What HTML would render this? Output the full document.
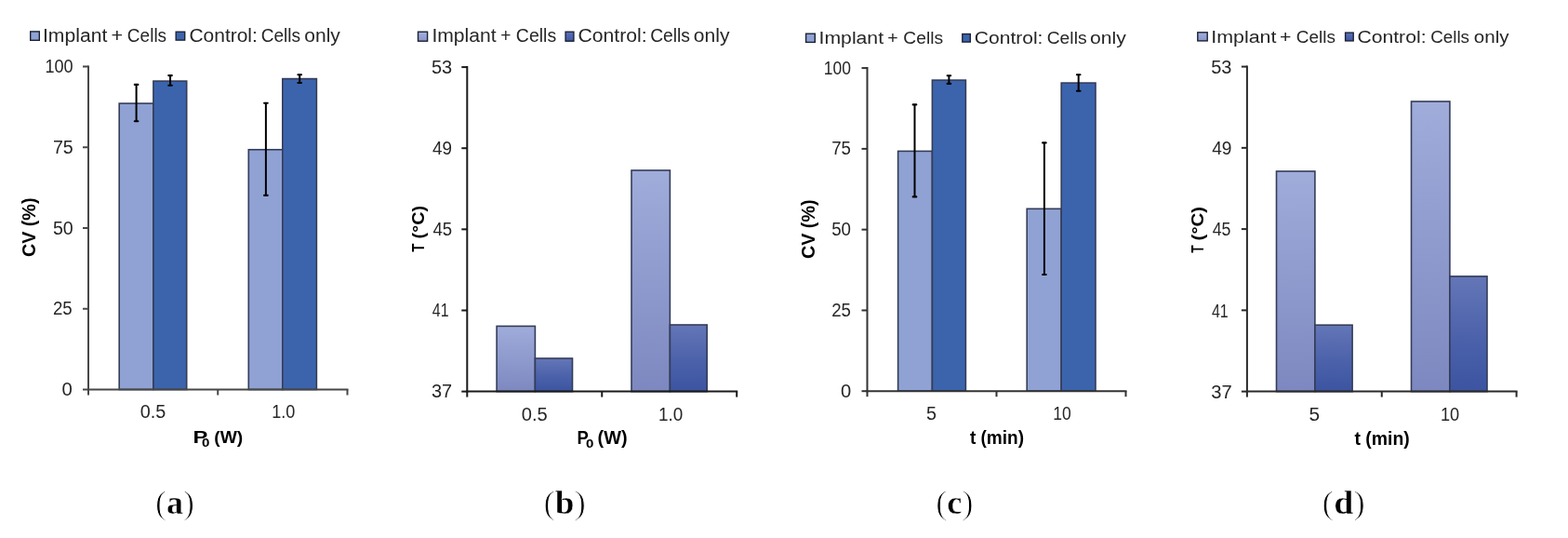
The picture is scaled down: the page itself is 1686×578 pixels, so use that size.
<!DOCTYPE html>
<html><head><meta charset="utf-8"><title>Figure</title><style>
html,body{margin:0;padding:0;background:#fff;}
svg{display:block;}
</style></head><body>
<svg width="1686" height="578" viewBox="0 0 1686 578">
<defs>
<linearGradient id="gL" x1="0" y1="0" x2="0" y2="1">
  <stop offset="0" stop-color="#a0acda"/><stop offset="1" stop-color="#7d88c0"/>
</linearGradient>
<linearGradient id="gD" x1="0" y1="0" x2="0" y2="1">
  <stop offset="0" stop-color="#6476b7"/><stop offset="0.55" stop-color="#4b61aa"/><stop offset="1" stop-color="#3c54a1"/>
</linearGradient>
<linearGradient id="gLs" x1="0" y1="0" x2="0" y2="1">
  <stop offset="0" stop-color="#a3b0dd"/><stop offset="1" stop-color="#8a95ca"/>
</linearGradient>
<linearGradient id="gDs" x1="0" y1="0" x2="0" y2="1">
  <stop offset="0" stop-color="#5a70b8"/><stop offset="1" stop-color="#3f57a6"/>
</linearGradient>
<filter id="soft" x="0" y="0" width="1686" height="578" filterUnits="userSpaceOnUse"><feGaussianBlur stdDeviation="0.0"/></filter></defs>
<g>
<rect x="128.20" y="111.10" width="36.70" height="307.40" fill="#90a2d4" stroke="#343c58" stroke-width="1.6"/>
<rect x="164.90" y="87.10" width="35.80" height="331.40" fill="#3c64ad" stroke="#343c58" stroke-width="1.6"/>
<rect x="267.30" y="160.75" width="36.50" height="257.75" fill="#90a2d4" stroke="#343c58" stroke-width="1.6"/>
<rect x="303.80" y="84.60" width="36.60" height="333.90" fill="#3c64ad" stroke="#343c58" stroke-width="1.6"/>
<line x1="146.60" y1="90.90" x2="146.60" y2="130.20" stroke="#000" stroke-width="2"/>
<line x1="144.80" y1="90.90" x2="148.40" y2="90.90" stroke="#000" stroke-width="2.1" stroke-linecap="round"/>
<line x1="144.80" y1="130.20" x2="148.40" y2="130.20" stroke="#000" stroke-width="2.1" stroke-linecap="round"/>
<line x1="183.05" y1="81.10" x2="183.05" y2="91.80" stroke="#000" stroke-width="2"/>
<line x1="181.25" y1="81.10" x2="184.85" y2="81.10" stroke="#000" stroke-width="2.1" stroke-linecap="round"/>
<line x1="181.25" y1="91.80" x2="184.85" y2="91.80" stroke="#000" stroke-width="2.1" stroke-linecap="round"/>
<line x1="285.90" y1="110.70" x2="285.90" y2="209.90" stroke="#000" stroke-width="2"/>
<line x1="284.10" y1="110.70" x2="287.70" y2="110.70" stroke="#000" stroke-width="2.1" stroke-linecap="round"/>
<line x1="284.10" y1="209.90" x2="287.70" y2="209.90" stroke="#000" stroke-width="2.1" stroke-linecap="round"/>
<line x1="322.20" y1="80.20" x2="322.20" y2="89.05" stroke="#000" stroke-width="2"/>
<line x1="320.40" y1="80.20" x2="324.00" y2="80.20" stroke="#000" stroke-width="2.1" stroke-linecap="round"/>
<line x1="320.40" y1="89.05" x2="324.00" y2="89.05" stroke="#000" stroke-width="2.1" stroke-linecap="round"/>
<line x1="95.00" y1="70.50" x2="95.00" y2="419.50" stroke="#474747" stroke-width="2"/>
<line x1="89.00" y1="71.50" x2="95.00" y2="71.50" stroke="#474747" stroke-width="2"/>
<line x1="89.00" y1="158.25" x2="95.00" y2="158.25" stroke="#474747" stroke-width="2"/>
<line x1="89.00" y1="245.00" x2="95.00" y2="245.00" stroke="#474747" stroke-width="2"/>
<line x1="89.00" y1="331.75" x2="95.00" y2="331.75" stroke="#474747" stroke-width="2"/>
<line x1="89.00" y1="418.50" x2="95.00" y2="418.50" stroke="#474747" stroke-width="2"/>
<line x1="94.00" y1="418.50" x2="374.50" y2="418.50" stroke="#474747" stroke-width="2"/>
<line x1="95.00" y1="418.50" x2="95.00" y2="424.50" stroke="#474747" stroke-width="2"/>
<line x1="234.25" y1="418.50" x2="234.25" y2="424.50" stroke="#474747" stroke-width="2"/>
<line x1="373.50" y1="418.50" x2="373.50" y2="424.50" stroke="#474747" stroke-width="2"/>
<rect x="32.70" y="33.90" width="9.60" height="9.40" fill="#90a2d4" stroke="#1c2233" stroke-width="1.4"/>
<rect x="189.20" y="34.20" width="9.50" height="8.90" fill="#3c64ad" stroke="#1c2233" stroke-width="1.4"/>
<rect x="534.10" y="350.40" width="41.30" height="70.20" fill="url(#gL)" stroke="#343c58" stroke-width="1.6"/>
<rect x="575.40" y="385.00" width="40.10" height="35.60" fill="url(#gD)" stroke="#343c58" stroke-width="1.6"/>
<rect x="679.00" y="183.00" width="41.40" height="237.60" fill="url(#gL)" stroke="#343c58" stroke-width="1.6"/>
<rect x="720.40" y="349.00" width="39.80" height="71.60" fill="url(#gD)" stroke="#343c58" stroke-width="1.6"/>
<line x1="502.30" y1="71.10" x2="502.30" y2="421.60" stroke="#1a1a1a" stroke-width="2"/>
<line x1="496.30" y1="72.10" x2="502.30" y2="72.10" stroke="#1a1a1a" stroke-width="2"/>
<line x1="496.30" y1="159.22" x2="502.30" y2="159.22" stroke="#1a1a1a" stroke-width="2"/>
<line x1="496.30" y1="246.35" x2="502.30" y2="246.35" stroke="#1a1a1a" stroke-width="2"/>
<line x1="496.30" y1="333.48" x2="502.30" y2="333.48" stroke="#1a1a1a" stroke-width="2"/>
<line x1="496.30" y1="420.60" x2="502.30" y2="420.60" stroke="#1a1a1a" stroke-width="2"/>
<line x1="501.30" y1="420.60" x2="793.20" y2="420.60" stroke="#1a1a1a" stroke-width="2"/>
<line x1="502.30" y1="420.60" x2="502.30" y2="426.60" stroke="#1a1a1a" stroke-width="2"/>
<line x1="647.25" y1="420.60" x2="647.25" y2="426.60" stroke="#1a1a1a" stroke-width="2"/>
<line x1="792.20" y1="420.60" x2="792.20" y2="426.60" stroke="#1a1a1a" stroke-width="2"/>
<rect x="449.50" y="34.20" width="10.10" height="10.00" fill="url(#gLs)" stroke="#1c2233" stroke-width="1.4"/>
<rect x="608.10" y="34.20" width="8.80" height="10.00" fill="url(#gDs)" stroke="#1c2233" stroke-width="1.4"/>
<rect x="965.60" y="162.40" width="36.80" height="257.80" fill="#90a2d4" stroke="#343c58" stroke-width="1.6"/>
<rect x="1002.40" y="86.10" width="36.00" height="334.10" fill="#3c64ad" stroke="#343c58" stroke-width="1.6"/>
<rect x="1104.20" y="224.30" width="37.00" height="195.90" fill="#90a2d4" stroke="#343c58" stroke-width="1.6"/>
<rect x="1141.20" y="89.10" width="36.80" height="331.10" fill="#3c64ad" stroke="#343c58" stroke-width="1.6"/>
<line x1="983.50" y1="112.40" x2="983.50" y2="211.40" stroke="#000" stroke-width="2"/>
<line x1="981.70" y1="112.40" x2="985.30" y2="112.40" stroke="#000" stroke-width="2.1" stroke-linecap="round"/>
<line x1="981.70" y1="211.40" x2="985.30" y2="211.40" stroke="#000" stroke-width="2.1" stroke-linecap="round"/>
<line x1="1020.40" y1="81.30" x2="1020.40" y2="89.90" stroke="#000" stroke-width="2"/>
<line x1="1018.60" y1="81.30" x2="1022.20" y2="81.30" stroke="#000" stroke-width="2.1" stroke-linecap="round"/>
<line x1="1018.60" y1="89.90" x2="1022.20" y2="89.90" stroke="#000" stroke-width="2.1" stroke-linecap="round"/>
<line x1="1122.90" y1="153.40" x2="1122.90" y2="295.00" stroke="#000" stroke-width="2"/>
<line x1="1121.10" y1="153.40" x2="1124.70" y2="153.40" stroke="#000" stroke-width="2.1" stroke-linecap="round"/>
<line x1="1121.10" y1="295.00" x2="1124.70" y2="295.00" stroke="#000" stroke-width="2.1" stroke-linecap="round"/>
<line x1="1159.70" y1="80.30" x2="1159.70" y2="97.80" stroke="#000" stroke-width="2"/>
<line x1="1157.90" y1="80.30" x2="1161.50" y2="80.30" stroke="#000" stroke-width="2.1" stroke-linecap="round"/>
<line x1="1157.90" y1="97.80" x2="1161.50" y2="97.80" stroke="#000" stroke-width="2.1" stroke-linecap="round"/>
<line x1="932.50" y1="72.10" x2="932.50" y2="421.20" stroke="#333333" stroke-width="2"/>
<line x1="926.50" y1="73.10" x2="932.50" y2="73.10" stroke="#333333" stroke-width="2"/>
<line x1="926.50" y1="159.88" x2="932.50" y2="159.88" stroke="#333333" stroke-width="2"/>
<line x1="926.50" y1="246.65" x2="932.50" y2="246.65" stroke="#333333" stroke-width="2"/>
<line x1="926.50" y1="333.43" x2="932.50" y2="333.43" stroke="#333333" stroke-width="2"/>
<line x1="926.50" y1="420.20" x2="932.50" y2="420.20" stroke="#333333" stroke-width="2"/>
<line x1="931.50" y1="420.20" x2="1211.50" y2="420.20" stroke="#333333" stroke-width="2"/>
<line x1="932.50" y1="420.20" x2="932.50" y2="426.20" stroke="#333333" stroke-width="2"/>
<line x1="1071.50" y1="420.20" x2="1071.50" y2="426.20" stroke="#333333" stroke-width="2"/>
<line x1="1210.50" y1="420.20" x2="1210.50" y2="426.20" stroke="#333333" stroke-width="2"/>
<rect x="866.60" y="36.20" width="9.70" height="9.20" fill="#90a2d4" stroke="#1c2233" stroke-width="1.4"/>
<rect x="1034.80" y="36.50" width="8.50" height="8.60" fill="#3c64ad" stroke="#1c2233" stroke-width="1.4"/>
<rect x="1372.50" y="184.00" width="41.40" height="236.60" fill="url(#gL)" stroke="#343c58" stroke-width="1.6"/>
<rect x="1413.90" y="349.20" width="40.20" height="71.40" fill="url(#gD)" stroke="#343c58" stroke-width="1.6"/>
<rect x="1517.50" y="109.00" width="41.40" height="311.60" fill="url(#gL)" stroke="#343c58" stroke-width="1.6"/>
<rect x="1558.90" y="296.90" width="40.10" height="123.70" fill="url(#gD)" stroke="#343c58" stroke-width="1.6"/>
<line x1="1340.90" y1="70.60" x2="1340.90" y2="421.60" stroke="#2a2a2a" stroke-width="2"/>
<line x1="1334.90" y1="71.60" x2="1340.90" y2="71.60" stroke="#2a2a2a" stroke-width="2"/>
<line x1="1334.90" y1="158.85" x2="1340.90" y2="158.85" stroke="#2a2a2a" stroke-width="2"/>
<line x1="1334.90" y1="246.10" x2="1340.90" y2="246.10" stroke="#2a2a2a" stroke-width="2"/>
<line x1="1334.90" y1="333.35" x2="1340.90" y2="333.35" stroke="#2a2a2a" stroke-width="2"/>
<line x1="1334.90" y1="420.60" x2="1340.90" y2="420.60" stroke="#2a2a2a" stroke-width="2"/>
<line x1="1339.90" y1="420.60" x2="1631.60" y2="420.60" stroke="#2a2a2a" stroke-width="2"/>
<line x1="1340.90" y1="420.60" x2="1340.90" y2="426.60" stroke="#2a2a2a" stroke-width="2"/>
<line x1="1485.75" y1="420.60" x2="1485.75" y2="426.60" stroke="#2a2a2a" stroke-width="2"/>
<line x1="1630.60" y1="420.60" x2="1630.60" y2="426.60" stroke="#2a2a2a" stroke-width="2"/>
<rect x="1287.80" y="34.80" width="10.40" height="9.10" fill="url(#gLs)" stroke="#1c2233" stroke-width="1.4"/>
<rect x="1446.60" y="35.10" width="8.60" height="8.80" fill="url(#gDs)" stroke="#1c2233" stroke-width="1.4"/>
<text id="ya0" x="48.40" y="78.10" font-family='"Liberation Sans", Arial, sans-serif' font-size="20.64" font-weight="normal" fill="#262626" textLength="30.15" lengthAdjust="spacingAndGlyphs" >100</text>
<text id="ya1" x="56.90" y="164.85" font-family='"Liberation Sans", Arial, sans-serif' font-size="20.64" font-weight="normal" fill="#262626" textLength="21.81" lengthAdjust="spacingAndGlyphs" >75</text>
<text id="ya2" x="56.90" y="251.60" font-family='"Liberation Sans", Arial, sans-serif' font-size="20.64" font-weight="normal" fill="#262626" textLength="21.81" lengthAdjust="spacingAndGlyphs" >50</text>
<text id="ya3" x="56.90" y="338.35" font-family='"Liberation Sans", Arial, sans-serif' font-size="20.64" font-weight="normal" fill="#262626" textLength="20.77" lengthAdjust="spacingAndGlyphs" >25</text>
<text id="ya4" x="66.60" y="425.10" font-family='"Liberation Sans", Arial, sans-serif' font-size="20.64" font-weight="normal" fill="#262626" textLength="11.30" lengthAdjust="spacingAndGlyphs" >0</text>
<text id="xa0" x="150.80" y="449.20" font-family='"Liberation Sans", Arial, sans-serif' font-size="21.08" font-weight="normal" fill="#262626" textLength="27.50" lengthAdjust="spacingAndGlyphs" >0.5</text>
<text id="xa1" x="292.20" y="449.20" font-family='"Liberation Sans", Arial, sans-serif' font-size="21.08" font-weight="normal" fill="#262626" textLength="25.14" lengthAdjust="spacingAndGlyphs" >1.0</text>
<text id="la1_0" x="46.00" y="44.60" font-family='"Liberation Sans", Arial, sans-serif' font-size="19.33" font-weight="normal" fill="#262626" textLength="69.26" lengthAdjust="spacingAndGlyphs" >Implant</text>
<text id="la1_1" x="119.46" y="44.60" font-family='"Liberation Sans", Arial, sans-serif' font-size="19.33" font-weight="normal" fill="#262626" textLength="12.67" lengthAdjust="spacingAndGlyphs" >+</text>
<text id="la1_2" x="136.86" y="44.60" font-family='"Liberation Sans", Arial, sans-serif' font-size="19.33" font-weight="normal" fill="#262626" textLength="42.25" lengthAdjust="spacingAndGlyphs" >Cells</text>
<text id="la2_0" x="203.40" y="44.60" font-family='"Liberation Sans", Arial, sans-serif' font-size="19.33" font-weight="normal" fill="#262626" textLength="73.48" lengthAdjust="spacingAndGlyphs" >Control:</text>
<text id="la2_1" x="280.68" y="44.60" font-family='"Liberation Sans", Arial, sans-serif' font-size="19.33" font-weight="normal" fill="#262626" textLength="42.50" lengthAdjust="spacingAndGlyphs" >Cells</text>
<text id="la2_2" x="327.32" y="44.60" font-family='"Liberation Sans", Arial, sans-serif' font-size="19.33" font-weight="normal" fill="#262626" textLength="38.59" lengthAdjust="spacingAndGlyphs" >only</text>
<text id="tay" transform="translate(38.40,276.10) rotate(-90)" x="0" y="0" font-family='"Liberation Sans", Arial, sans-serif' font-size="19.62" font-weight="bold" fill="#000" textLength="63.59" lengthAdjust="spacingAndGlyphs" >CV (%)</text>
<text id="taxP" x="207.60" y="475.50" font-family='"Liberation Sans", Arial, sans-serif' font-size="19.19" font-weight="bold" fill="#000" textLength="15.84" lengthAdjust="spacingAndGlyphs" >P</text>
<text id="taxS" x="217.00" y="479.60" font-family='"Liberation Sans", Arial, sans-serif' font-size="12.57" font-weight="bold" fill="#000" textLength="8.41" lengthAdjust="spacingAndGlyphs" >0</text>
<text id="taxR" x="230.30" y="475.50" font-family='"Liberation Sans", Arial, sans-serif' font-size="19.19" font-weight="bold" fill="#000" textLength="30.97" lengthAdjust="spacingAndGlyphs" >(W)</text>
<text id="ca" x="167.00" y="552.00" font-family='"Liberation Serif", "Times New Roman", serif' font-size="36.20" font-weight="normal" fill="#000" textLength="42.13" lengthAdjust="spacingAndGlyphs" stroke="#fff" stroke-width="0.9">(<tspan font-weight="bold" stroke-width="0.45">a</tspan>)</text>
<text id="yb0" x="464.00" y="78.50" font-family='"Liberation Sans", Arial, sans-serif' font-size="20.35" font-weight="normal" fill="#262626" textLength="22.22" lengthAdjust="spacingAndGlyphs" >53</text>
<text id="yb1" x="465.00" y="165.62" font-family='"Liberation Sans", Arial, sans-serif' font-size="20.35" font-weight="normal" fill="#262626" textLength="21.05" lengthAdjust="spacingAndGlyphs" >49</text>
<text id="yb2" x="465.50" y="252.75" font-family='"Liberation Sans", Arial, sans-serif' font-size="20.35" font-weight="normal" fill="#262626" textLength="20.72" lengthAdjust="spacingAndGlyphs" >45</text>
<text id="yb3" x="464.80" y="339.88" font-family='"Liberation Sans", Arial, sans-serif' font-size="20.35" font-weight="normal" fill="#262626" textLength="17.75" lengthAdjust="spacingAndGlyphs" >41</text>
<text id="yb4" x="464.00" y="427.00" font-family='"Liberation Sans", Arial, sans-serif' font-size="20.35" font-weight="normal" fill="#262626" textLength="22.22" lengthAdjust="spacingAndGlyphs" >37</text>
<text id="xb0" x="560.80" y="452.10" font-family='"Liberation Sans", Arial, sans-serif' font-size="21.08" font-weight="normal" fill="#262626" textLength="27.97" lengthAdjust="spacingAndGlyphs" >0.5</text>
<text id="xb1" x="708.00" y="452.10" font-family='"Liberation Sans", Arial, sans-serif' font-size="21.08" font-weight="normal" fill="#262626" textLength="26.29" lengthAdjust="spacingAndGlyphs" >1.0</text>
<text id="lb1_0" x="464.40" y="45.20" font-family='"Liberation Sans", Arial, sans-serif' font-size="19.62" font-weight="normal" fill="#262626" textLength="69.23" lengthAdjust="spacingAndGlyphs" >Implant</text>
<text id="lb1_1" x="538.20" y="45.20" font-family='"Liberation Sans", Arial, sans-serif' font-size="19.62" font-weight="normal" fill="#262626" textLength="11.16" lengthAdjust="spacingAndGlyphs" >+</text>
<text id="lb1_2" x="554.87" y="45.20" font-family='"Liberation Sans", Arial, sans-serif' font-size="19.62" font-weight="normal" fill="#262626" textLength="43.28" lengthAdjust="spacingAndGlyphs" >Cells</text>
<text id="lb2_0" x="621.40" y="45.20" font-family='"Liberation Sans", Arial, sans-serif' font-size="19.62" font-weight="normal" fill="#262626" textLength="74.20" lengthAdjust="spacingAndGlyphs" >Control:</text>
<text id="lb2_1" x="699.14" y="45.20" font-family='"Liberation Sans", Arial, sans-serif' font-size="19.62" font-weight="normal" fill="#262626" textLength="42.89" lengthAdjust="spacingAndGlyphs" >Cells</text>
<text id="lb2_2" x="745.86" y="45.20" font-family='"Liberation Sans", Arial, sans-serif' font-size="19.62" font-weight="normal" fill="#262626" textLength="38.63" lengthAdjust="spacingAndGlyphs" >only</text>
<text id="tbyA" transform="translate(455.80,270.80) rotate(-90)" x="0" y="0" font-family='"Liberation Sans", Arial, sans-serif' font-size="19.19" font-weight="bold" fill="#000" textLength="9.06" lengthAdjust="spacingAndGlyphs" >T</text>
<text id="tbyB" transform="translate(455.80,256.40) rotate(-90)" x="0" y="0" font-family='"Liberation Sans", Arial, sans-serif' font-size="19.19" font-weight="bold" fill="#000" textLength="35.47" lengthAdjust="spacingAndGlyphs" >(°C)</text>
<text id="tbxP" x="620.50" y="476.70" font-family='"Liberation Sans", Arial, sans-serif' font-size="19.62" font-weight="bold" fill="#000" textLength="12.32" lengthAdjust="spacingAndGlyphs" >P</text>
<text id="tbxS" x="630.00" y="480.80" font-family='"Liberation Sans", Arial, sans-serif' font-size="13.00" font-weight="bold" fill="#000" textLength="8.37" lengthAdjust="spacingAndGlyphs" >0</text>
<text id="tbxR" x="642.60" y="476.70" font-family='"Liberation Sans", Arial, sans-serif' font-size="19.62" font-weight="bold" fill="#000" textLength="32.06" lengthAdjust="spacingAndGlyphs" >(W)</text>
<text id="cb" x="584.40" y="552.00" font-family='"Liberation Serif", "Times New Roman", serif' font-size="36.20" font-weight="normal" fill="#000" textLength="45.59" lengthAdjust="spacingAndGlyphs" stroke="#fff" stroke-width="0.9">(<tspan font-weight="bold" stroke-width="0.45">b</tspan>)</text>
<text id="yc0" x="885.70" y="79.50" font-family='"Liberation Sans", Arial, sans-serif' font-size="20.64" font-weight="normal" fill="#262626" textLength="29.19" lengthAdjust="spacingAndGlyphs" >100</text>
<text id="yc1" x="894.20" y="166.28" font-family='"Liberation Sans", Arial, sans-serif' font-size="20.64" font-weight="normal" fill="#262626" textLength="20.78" lengthAdjust="spacingAndGlyphs" >75</text>
<text id="yc2" x="894.20" y="253.05" font-family='"Liberation Sans", Arial, sans-serif' font-size="20.64" font-weight="normal" fill="#262626" textLength="20.83" lengthAdjust="spacingAndGlyphs" >50</text>
<text id="yc3" x="894.20" y="339.83" font-family='"Liberation Sans", Arial, sans-serif' font-size="20.64" font-weight="normal" fill="#262626" textLength="20.78" lengthAdjust="spacingAndGlyphs" >25</text>
<text id="yc4" x="903.90" y="426.60" font-family='"Liberation Sans", Arial, sans-serif' font-size="20.64" font-weight="normal" fill="#262626" textLength="11.22" lengthAdjust="spacingAndGlyphs" >0</text>
<text id="xc0" x="996.10" y="450.60" font-family='"Liberation Sans", Arial, sans-serif' font-size="20.93" font-weight="normal" fill="#262626" textLength="11.00" lengthAdjust="spacingAndGlyphs" >5</text>
<text id="xc1" x="1132.20" y="450.60" font-family='"Liberation Sans", Arial, sans-serif' font-size="20.93" font-weight="normal" fill="#262626" textLength="19.56" lengthAdjust="spacingAndGlyphs" >10</text>
<text id="lc1_0" x="880.60" y="46.70" font-family='"Liberation Sans", Arial, sans-serif' font-size="19.19" font-weight="normal" fill="#262626" textLength="69.42" lengthAdjust="spacingAndGlyphs" >Implant</text>
<text id="lc1_1" x="954.17" y="46.70" font-family='"Liberation Sans", Arial, sans-serif' font-size="19.19" font-weight="normal" fill="#262626" textLength="11.38" lengthAdjust="spacingAndGlyphs" >+</text>
<text id="lc1_2" x="971.35" y="46.70" font-family='"Liberation Sans", Arial, sans-serif' font-size="19.19" font-weight="normal" fill="#262626" textLength="42.78" lengthAdjust="spacingAndGlyphs" >Cells</text>
<text id="lc2_0" x="1047.80" y="46.70" font-family='"Liberation Sans", Arial, sans-serif' font-size="19.19" font-weight="normal" fill="#262626" textLength="73.66" lengthAdjust="spacingAndGlyphs" >Control:</text>
<text id="lc2_1" x="1125.69" y="46.70" font-family='"Liberation Sans", Arial, sans-serif' font-size="19.19" font-weight="normal" fill="#262626" textLength="42.89" lengthAdjust="spacingAndGlyphs" >Cells</text>
<text id="lc2_2" x="1172.11" y="46.70" font-family='"Liberation Sans", Arial, sans-serif' font-size="19.19" font-weight="normal" fill="#262626" textLength="38.78" lengthAdjust="spacingAndGlyphs" >only</text>
<text id="tcy" transform="translate(875.80,278.00) rotate(-90)" x="0" y="0" font-family='"Liberation Sans", Arial, sans-serif' font-size="19.62" font-weight="bold" fill="#000" textLength="63.49" lengthAdjust="spacingAndGlyphs" >CV (%)</text>
<text id="tcx" x="1042.90" y="476.70" font-family='"Liberation Sans", Arial, sans-serif' font-size="19.62" font-weight="bold" fill="#000" textLength="58.14" lengthAdjust="spacingAndGlyphs" >t (min)</text>
<text id="cc" x="1006.30" y="552.00" font-family='"Liberation Serif", "Times New Roman", serif' font-size="36.20" font-weight="normal" fill="#000" textLength="40.16" lengthAdjust="spacingAndGlyphs" stroke="#fff" stroke-width="0.9">(<tspan font-weight="bold" stroke-width="0.45">c</tspan>)</text>
<text id="yd0" x="1302.20" y="78.80" font-family='"Liberation Sans", Arial, sans-serif' font-size="20.64" font-weight="normal" fill="#262626" textLength="22.22" lengthAdjust="spacingAndGlyphs" >53</text>
<text id="yd1" x="1303.20" y="166.05" font-family='"Liberation Sans", Arial, sans-serif' font-size="20.64" font-weight="normal" fill="#262626" textLength="21.32" lengthAdjust="spacingAndGlyphs" >49</text>
<text id="yd2" x="1303.70" y="253.30" font-family='"Liberation Sans", Arial, sans-serif' font-size="20.64" font-weight="normal" fill="#262626" textLength="19.78" lengthAdjust="spacingAndGlyphs" >45</text>
<text id="yd3" x="1303.00" y="340.55" font-family='"Liberation Sans", Arial, sans-serif' font-size="20.64" font-weight="normal" fill="#262626" textLength="17.75" lengthAdjust="spacingAndGlyphs" >41</text>
<text id="yd4" x="1302.20" y="427.80" font-family='"Liberation Sans", Arial, sans-serif' font-size="20.64" font-weight="normal" fill="#262626" textLength="22.45" lengthAdjust="spacingAndGlyphs" >37</text>
<text id="xd0" x="1407.50" y="452.10" font-family='"Liberation Sans", Arial, sans-serif' font-size="21.08" font-weight="normal" fill="#262626" textLength="11.62" lengthAdjust="spacingAndGlyphs" >5</text>
<text id="xd1" x="1548.90" y="452.10" font-family='"Liberation Sans", Arial, sans-serif' font-size="21.08" font-weight="normal" fill="#262626" textLength="20.26" lengthAdjust="spacingAndGlyphs" >10</text>
<text id="ld1_0" x="1302.20" y="45.80" font-family='"Liberation Sans", Arial, sans-serif' font-size="19.19" font-weight="normal" fill="#262626" textLength="70.26" lengthAdjust="spacingAndGlyphs" >Implant</text>
<text id="ld1_1" x="1376.00" y="45.80" font-family='"Liberation Sans", Arial, sans-serif' font-size="19.19" font-weight="normal" fill="#262626" textLength="12.40" lengthAdjust="spacingAndGlyphs" >+</text>
<text id="ld1_2" x="1393.67" y="45.80" font-family='"Liberation Sans", Arial, sans-serif' font-size="19.19" font-weight="normal" fill="#262626" textLength="42.25" lengthAdjust="spacingAndGlyphs" >Cells</text>
<text id="ld2_0" x="1459.40" y="45.80" font-family='"Liberation Sans", Arial, sans-serif' font-size="19.19" font-weight="normal" fill="#262626" textLength="74.15" lengthAdjust="spacingAndGlyphs" >Control:</text>
<text id="ld2_1" x="1538.14" y="45.80" font-family='"Liberation Sans", Arial, sans-serif' font-size="19.19" font-weight="normal" fill="#262626" textLength="41.92" lengthAdjust="spacingAndGlyphs" >Cells</text>
<text id="ld2_2" x="1584.86" y="45.80" font-family='"Liberation Sans", Arial, sans-serif' font-size="19.19" font-weight="normal" fill="#262626" textLength="37.72" lengthAdjust="spacingAndGlyphs" >only</text>
<text id="tdyA" transform="translate(1294.20,271.80) rotate(-90)" x="0" y="0" font-family='"Liberation Sans", Arial, sans-serif' font-size="19.04" font-weight="bold" fill="#000" textLength="8.29" lengthAdjust="spacingAndGlyphs" >T</text>
<text id="tdyB" transform="translate(1294.20,258.40) rotate(-90)" x="0" y="0" font-family='"Liberation Sans", Arial, sans-serif' font-size="19.04" font-weight="bold" fill="#000" textLength="36.55" lengthAdjust="spacingAndGlyphs" >(°C)</text>
<text id="tdx" x="1456.50" y="478.20" font-family='"Liberation Sans", Arial, sans-serif' font-size="19.77" font-weight="bold" fill="#000" textLength="59.28" lengthAdjust="spacingAndGlyphs" >t (min)</text>
<text id="cd" x="1421.60" y="552.00" font-family='"Liberation Serif", "Times New Roman", serif' font-size="36.20" font-weight="normal" fill="#000" textLength="46.33" lengthAdjust="spacingAndGlyphs" stroke="#fff" stroke-width="0.9">(<tspan font-weight="bold" stroke-width="0.45">d</tspan>)</text>
</g>
</svg>
</body></html>
